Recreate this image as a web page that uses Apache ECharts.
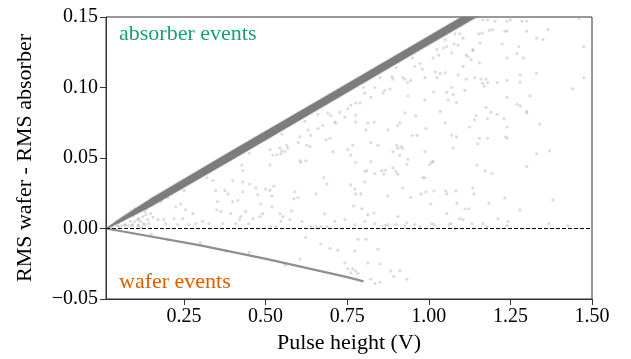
<!DOCTYPE html>
<html>
<head>
<meta charset="utf-8">
<script src="https://cdn.jsdelivr.net/npm/echarts@6/dist/echarts.min.js"></script>
<style>
  html, body { margin: 0; padding: 0; background: #fff; }
  #chart { width: 631px; height: 359px; }
</style>
</head>
<body>
<div id="chart"></div>
<script>
  // x ticks (V) and y ticks
  const xTicks = [0.25, 0.5, 0.75, 1.0, 1.25, 1.5]
  const yTicks = [-0.05, 0, 0.05, 0.1, 0.15]

  // dense absorber band
  const bandUpper = [[0.012, 0.0003], [0.06, 0.008], [0.15, 0.0215], [0.4, 0.0556], [0.7, 0.096], [1.0, 0.1365], [1.1, 0.15]]
  const bandLower = [[0.012, -0.0003], [0.06, 0.005], [0.15, 0.0158], [0.4, 0.0492], [0.7, 0.0898], [1.0, 0.1303], [1.147, 0.15]]

  // wafer band (below zero)
  const waferBand = [[0.012, 0], [0.3, -0.012], [0.505, -0.0217], [0.75, -0.0345], [0.8, -0.0375]]

  // scattered events
  const spreadHigh = [
    [1.30, 0.147], [1.285, 0.147], [1.25, 0.148], [1.46, 0.149], [1.365, 0.141], [1.30, 0.140], [1.24, 0.140], [1.33, 0.135],
    [1.35, 0.134], [1.475, 0.129], [1.275, 0.129], [1.225, 0.131], [1.24, 0.121], [1.27, 0.124], [1.29, 0.121], [1.33, 0.110],
    [1.28, 0.109], [1.28, 0.104], [1.475, 0.107], [1.24, 0.105], [1.21, 0.1035], [1.44, 0.099], [1.24, 0.093], [1.31, 0.094],
    [1.27, 0.088], [1.28, 0.087], [1.30, 0.083], [1.30, 0.082], [1.34, 0.074], [1.33, 0.053], [1.37, 0.055], [1.24, 0.072],
    [1.235, 0.065], [1.24, 0.064], [1.23, 0.078], [1.21, 0.081], [1.19, 0.0825], [1.175, 0.086], [1.145, 0.080], [1.14, 0.077],
    [1.18, 0.078], [1.125, 0.072], [1.155, 0.064], [1.18, 0.064], [1.15, 0.060], [1.07, 0.066], [1.085, 0.065], [1.075, 0.057],
    [1.05, 0.075], [1.035, 0.083], [1.055, 0.0965], [1.075, 0.095], [1.085, 0.0895], [1.06, 0.091], [1.015, 0.097], [1.11, 0.098],
    [1.07, 0.100], [1.025, 0.107], [1.035, 0.110], [1.02, 0.111], [1.05, 0.1105], [1.09, 0.109], [1.115, 0.106], [1.14, 0.107],
    [1.16, 0.106], [1.175, 0.106], [1.165, 0.103], [1.17, 0.101], [1.18, 0.1035], [1.105, 0.115], [1.155, 0.1175], [1.13, 0.120],
    [1.12, 0.122], [1.114, 0.123], [1.07, 0.1245], [1.03, 0.123], [1.013, 0.121], [1.025, 0.127], [1.045, 0.128], [1.055, 0.129],
    [1.09, 0.130], [1.077, 0.131], [1.135, 0.127], [1.135, 0.126], [1.157, 0.1315], [1.163, 0.1385], [1.185, 0.1405], [1.195, 0.141],
    [1.153, 0.138], [1.233, 0.140], [1.203, 0.147], [1.24, 0.147], [1.18, 0.148], [1.166, 0.148], [1.095, 0.138], [1.105, 0.135],
    [1.30, 0.044], [1.172, 0.041], [1.147, 0.045], [1.193, 0.039], [1.003, 0.0455], [1.013, 0.0475], [0.92, 0.057], [0.95, 0.066],
    [0.92, 0.107], [0.935, 0.1035], [0.945, 0.105], [0.98, 0.113], [0.988, 0.107], [0.957, 0.115], [0.973, 0.117], [0.89, 0.106],
    [0.887, 0.1077], [0.865, 0.098], [0.86, 0.096], [0.835, 0.100], [0.822, 0.093], [0.804, 0.096], [0.776, 0.089], [0.789, 0.089],
    [0.761, 0.0875], [0.752, 0.085], [0.743, 0.079], [0.776, 0.0804], [0.776, 0.0755], [0.712, 0.0755], [0.715, 0.0748], [0.70, 0.080],
    [0.691, 0.082], [0.727, 0.0825], [0.675, 0.073], [0.66, 0.071], [0.63, 0.070], [0.638, 0.066], [0.605, 0.065], [0.60, 0.061],
    [0.568, 0.057], [0.56, 0.0545], [0.544, 0.057], [0.522, 0.052], [0.547, 0.053], [0.636, 0.058], [0.685, 0.063], [0.697, 0.064],
    [0.706, 0.0545], [0.752, 0.056], [0.761, 0.052], [0.807, 0.070], [0.822, 0.061], [0.844, 0.059], [0.89, 0.0545], [0.905, 0.057],
    [0.915, 0.058], [0.875, 0.070], [0.905, 0.073], [0.911, 0.075], [0.96, 0.080], [0.964, 0.066], [0.988, 0.091], [0.991, 0.071],
    [0.988, 0.0545], [0.927, 0.082], [0.813, 0.075], [0.832, 0.0755],
    [0.427, 0.045], [0.43, 0.041], [0.534, 0.0525], [0.55, 0.055], [0.565, 0.059], [0.513, 0.056], [0.626, 0.059], [0.605, 0.048],
    [0.513, 0.045], [0.81, 0.041], [0.856, 0.041], [0.89, 0.043], [0.933, 0.0455], [0.911, 0.052], [0.767, 0.059], [0.902, 0.059],
    [0.936, 0.094], [0.927, 0.106], [0.881, 0.099],
    [0.2, 0.022], [0.18, 0.019], [0.25, 0.027], [0.32, 0.036], [0.45, 0.0535], [0.55, 0.067], [0.62, 0.076], [0.66, 0.081],
    [0.8, 0.100], [0.85, 0.107], [0.9, 0.114], [0.95, 0.121], [1.05, 0.134], [1.08, 0.138]
  ]
  const spreadLow = [
    [0.608, 0.047], [0.623, 0.048], [0.776, 0.047], [0.822, 0.0475], [0.936, 0.049], [0.804, 0.0405], [0.835, 0.039], [0.868, 0.0413],
    [0.862, 0.0385], [0.899, 0.0405], [0.905, 0.0385], [0.525, 0.030], [0.519, 0.023], [0.59, 0.026], [0.599, 0.022], [0.587, 0.021],
    [0.688, 0.0315], [0.678, 0.036], [0.654, 0.0245], [0.761, 0.031], [0.773, 0.028], [0.776, 0.0245], [0.792, 0.0245], [0.804, 0.033],
    [0.92, 0.0287], [0.874, 0.023], [0.945, 0.022], [0.976, 0.0245], [0.991, 0.026], [0.982, 0.036], [0.988, 0.036], [0.58, 0.0126],
    [0.553, 0.0084], [0.547, 0.005], [0.531, 0.0014], [0.516, 0.0014], [0.611, 0.005], [0.639, 0.0014], [0.654, 0.0014], [0.669, 0.0014],
    [0.688, 0.0014], [0.681, 0.0105], [0.712, 0.005], [0.743, 0.0063], [0.77, 0.016], [0.795, 0.014], [0.813, 0.0098], [0.832, 0.011],
    [0.804, 0.005], [0.773, 0.0028], [0.835, 0.0035], [0.865, 0.002], [0.874, 0.0028], [0.899, 0.0028], [0.927, 0.0014], [0.933, 0.004],
    [0.957, 0.0028], [0.973, 0.0014], [0.905, 0.0084],
    [1.009, 0.047], [1.016, 0.0266], [1.052, 0.0266], [1.055, 0.0245], [1.083, 0.0266], [1.135, 0.0287], [1.138, 0.0245], [1.233, 0.0217],
    [1.38, 0.0203], [1.006, 0.0175], [1.086, 0.018], [1.184, 0.018], [1.279, 0.0133], [1.111, 0.014], [1.123, 0.014], [1.055, 0.0105],
    [1.095, 0.007], [1.105, 0.0063], [1.212, 0.007], [1.242, 0.005], [1.009, 0.0035], [1.016, 0.0028], [1.062, 0.0028], [1.068, 0.0035],
    [1.132, 0.0035], [1.166, 0.0035], [1.24, 0.002], [1.368, 0.0035], [1.426, 0.002], [1.08, 0.0], [1.178, 0.0014],
    [0.108, 0.0063], [0.111, 0.007], [0.123, 0.0084], [0.133, 0.0098], [0.117, 0.005], [0.099, 0.005], [0.139, 0.0063], [0.126, 0.0035],
    [0.093, 0.0028], [0.142, 0.0035], [0.148, 0.0105], [0.225, 0.0154], [0.24, 0.0175], [0.255, 0.0133], [0.277, 0.0105], [0.246, 0.007],
    [0.219, 0.007], [0.188, 0.0063], [0.17, 0.0063], [0.194, 0.0035], [0.231, 0.0028], [0.286, 0.0035], [0.307, 0.005], [0.338, 0.034],
    [0.347, 0.027], [0.353, 0.019], [0.384, 0.0245], [0.399, 0.034], [0.43, 0.033], [0.415, 0.020], [0.363, 0.012], [0.393, 0.0105],
    [0.439, 0.012], [0.424, 0.0084], [0.461, 0.007], [0.491, 0.0105], [0.485, 0.0175], [0.476, 0.024], [0.47, 0.029], [0.50, 0.028],
    [0.448, 0.0035], [0.409, 0.0035], [0.369, 0.0035], [0.326, 0.0035], [0.264, 0.0028],
    [0.375, 0.027], [0.35, 0.0133], [0.399, 0.019], [0.43, 0.026], [0.451, 0.0315], [0.513, 0.027], [0.519, 0.0154], [0.482, 0.0084],
    [0.42, 0.0063], [0.544, 0.0105], [0.574, 0.0063],
    [0.05, 0.004], [0.06, 0.006], [0.07, 0.008], [0.08, 0.010], [0.09, 0.012], [0.1, 0.014], [0.07, 0.003], [0.085, 0.005],
    [0.095, 0.009], [0.105, 0.011], [0.115, 0.013], [0.125, 0.015], [0.13, 0.012], [0.08, 0.002], [0.06, 0.002], [0.045, 0.002],
    [0.11, 0.002], [0.12, 0.001], [0.135, 0.014], [0.14, 0.016], [0.155, 0.008], [0.03, 0.001], [0.05, 0.0015], [0.07, 0.002],
    [0.09, 0.0022], [0.11, 0.0025], [0.13, 0.0028]
  ]
  const spreadNeg = [
    [0.623, -0.0063], [0.669, -0.011], [0.697, -0.014], [0.721, -0.0154], [0.783, -0.0077], [0.807, -0.0077], [0.844, -0.0147],
    [0.773, -0.016], [0.813, -0.0245], [0.85, -0.025], [0.884, -0.030], [0.911, -0.030], [0.893, -0.034], [0.933, -0.036],
    [0.743, -0.0245], [0.605, -0.0217], [0.752, -0.0287], [0.767, -0.0287], [0.776, -0.030], [0.783, -0.032], [0.761, -0.0315],
    [0.822, -0.036], [0.835, -0.039], [0.85, -0.038],
    [0.15, -0.004], [0.2, -0.008], [0.3, -0.010], [0.38, -0.016], [0.45, -0.017], [0.56, -0.026]
  ]

  const font = 'Liberation Serif'
  const chart = echarts.init(document.getElementById('chart'))

  const fmt = v => {
    const s = Math.abs(v).toFixed(2)
    return v < -1e-9 ? '\u2212' + s : s
  }

  const option = {
    animation: false,
    grid: {
      left: 106,
      right: 39,
      top: 17,
      bottom: 56,
      show: true,
      borderColor: '#333',
      borderWidth: 1
    },
    xAxis: {
      type: 'value',
      min: 0.011,
      max: 1.5,
      name: 'Pulse height (V)',
      nameLocation: 'middle',
      nameGap: 33,
      nameTextStyle: { fontFamily: font, fontSize: 22, color: '#000' },
      axisLine: { show: true, onZero: false, lineStyle: { color: '#333' } },
      axisTick: { show: true, length: 6, customValues: xTicks, lineStyle: { color: '#333' } },
      axisLabel: {
        customValues: xTicks,
        margin: 8,
        fontFamily: font,
        fontSize: 20,
        color: '#000',
        formatter: fmt
      },
      splitLine: { show: false }
    },
    yAxis: {
      type: 'value',
      min: -0.05,
      max: 0.15,
      name: 'RMS wafer - RMS absorber',
      nameLocation: 'middle',
      nameGap: 70,
      nameTextStyle: { fontFamily: font, fontSize: 22, color: '#000' },
      axisLine: { show: true, onZero: false, lineStyle: { color: '#333' } },
      axisTick: { show: true, length: 6, customValues: yTicks, lineStyle: { color: '#333' } },
      axisLabel: {
        customValues: yTicks,
        margin: 8,
        fontFamily: font,
        fontSize: 20,
        color: '#000',
        formatter: fmt
      },
      splitLine: { show: false }
    },
    graphic: [
      {
        type: 'text',
        left: 119,
        top: 23,
        style: { text: 'absorber events', fontFamily: font, fontSize: 22, fill: '#1b9e77' },
        z: 10
      },
      {
        type: 'text',
        left: 119,
        top: 271,
        style: { text: 'wafer events', fontFamily: font, fontSize: 22, fill: '#d95f02' },
        z: 10
      }
    ],
    series: [
      {
        type: 'scatter',
        data: spreadHigh.concat(spreadLow, spreadNeg),
        symbolSize: 3.2,
        itemStyle: { color: 'rgba(150,150,150,0.42)' },
        silent: true,
        z: 1,
        markLine: {
          silent: true,
          symbol: ['none', 'none'],
          label: { show: false },
          lineStyle: { color: '#000', type: [4, 2], width: 1 },
          data: [{ yAxis: 0 }],
          z: 5
        }
      },
      {
        type: 'line',
        data: waferBand,
        showSymbol: false,
        symbol: 'none',
        lineStyle: { color: 'rgba(115,115,115,0.8)', width: 2.2 },
        silent: true,
        z: 2
      },
      {
        type: 'custom',
        silent: true,
        z: 3,
        data: [[0.5, 0.05]],
        renderItem: (params, api) => {
          const pts = bandUpper.concat(bandLower.slice().reverse()).map(p => api.coord(p))
          return {
            type: 'polygon',
            shape: { points: pts },
            style: { fill: '#7c7c7c', stroke: 'rgba(127,127,127,0.4)', lineWidth: 1.5 }
          }
        }
      }
    ]
  }

  chart.setOption(option)
</script>
</body>
</html>
